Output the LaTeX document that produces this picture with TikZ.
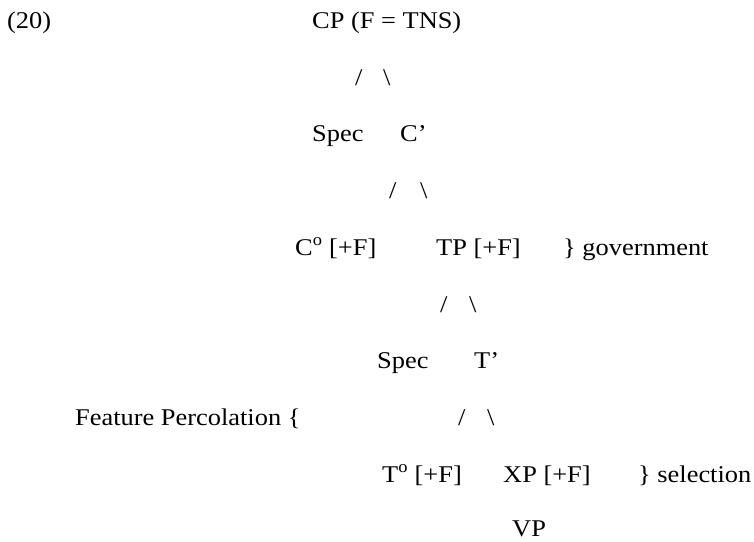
\documentclass[tikz,border=0pt]{standalone}
\usepackage{fontspec}
\setmainfont[FakeStretch=1.1]{Liberation Serif}

\begin{document}
\begin{tikzpicture}[
  x=1pt, y=-1pt,
  word/.style={anchor=base west, inner sep=0pt, font=\fontsize{24}{28}\selectfont},
  branch/.style={word}
]
  \useasboundingbox (0,0) rectangle (754,541);

  \node[word] (ex) at (7,28) {(20)};
  \node[word] (cp) at (312,28) {CP (F = TNS)};
  \node[branch] (cpl) at (355,85) {/};
  \node[branch] (cpr) at (383,85) {\textbackslash};

  \node[word] (specc) at (312,141) {Spec};
  \node[word] (cbar) at (400,141) {C’};
  \node[branch] (cbarl) at (389,198) {/};
  \node[branch] (cbarr) at (420,198) {\textbackslash};

  \node[word] (czero) at (295,255) {C\textsuperscript{o} [+F]};
  \node[word] (tp) at (436,255) {TP [+F]};
  \node[word] (gov) at (563,255) {\} government};
  \node[branch] (tpl) at (440,312) {/};
  \node[branch] (tpr) at (469,312) {\textbackslash};

  \node[word] (spect) at (377,368) {Spec};
  \node[word] (tbar) at (474,368) {T’};
  \node[word] (perc) at (75,425) {Feature Percolation \{};
  \node[branch] (tbarl) at (458,425) {/};
  \node[branch] (tbarr) at (487,425) {\textbackslash};

  \node[word] (tzero) at (382,482) {T\textsuperscript{o} [+F]};
  \node[word] (xp) at (503,482) {XP [+F]};
  \node[word] (sel) at (638,482) {\} selection};
  \node[word] (vp) at (512,536) {VP};
\end{tikzpicture}
\end{document}
